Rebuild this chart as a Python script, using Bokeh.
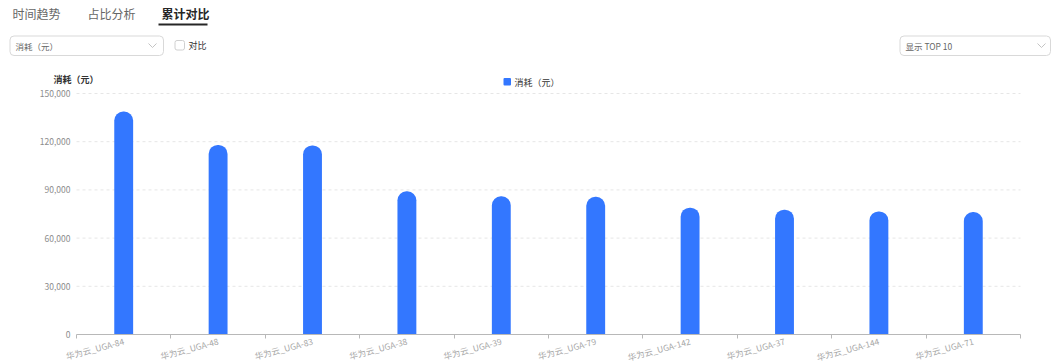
import math

from bokeh.embed import file_html
from bokeh.models import (Arrow, BoxAnnotation, ColumnDataSource, FixedTicker, Label,
                          NumeralTickFormatter, Range1d)
from bokeh.plotting import figure
from bokeh.resources import INLINE

# Cumulative cost per resource (top 10)
names = ["华为云_UGA-84", "华为云_UGA-48", "华为云_UGA-83", "华为云_UGA-38", "华为云_UGA-39",
         "华为云_UGA-79", "华为云_UGA-142", "华为云_UGA-37", "华为云_UGA-144", "华为云_UGA-71"]
costs = [138800, 118000, 117700, 89100, 86000, 85700, 78900, 77700, 76600, 76200]
y_ticks = [0, 30000, 60000, 90000, 120000, 150000]
tabs = ["时间趋势", "占比分析", "累计对比"]
metric = "消耗（元）"
top_n = "显示 TOP 10"
compare = "对比"

FONT = "Noto Sans CJK SC"
BLUE = "#3377ff"
W, H = 1055, 363
# pixel box of the bar area inside the page
PLOT_LEFT, PLOT_RIGHT, PLOT_TOP, PLOT_BOTTOM = 76, 1020, 93, 334

n = len(names)
x_unit = (PLOT_RIGHT - PLOT_LEFT) / n
y_unit = (y_ticks[-1] - y_ticks[0]) / (PLOT_BOTTOM - PLOT_TOP)

# the frame fills the whole canvas; ranges are widened so the bar area lands in place
p = figure(width=W, height=H, title=None, output_backend="svg", toolbar_location=None,
           min_border=0, outline_line_color=None,
           x_range=Range1d(-PLOT_LEFT / x_unit, n + (W - PLOT_RIGHT) / x_unit),
           y_range=Range1d(y_ticks[0] - (H - PLOT_BOTTOM) * y_unit,
                           y_ticks[-1] + PLOT_TOP * y_unit))
p.grid.visible = False
# pixel coordinates for the page furniture
p.extra_x_ranges = {"px": Range1d(0, W)}
p.extra_y_ranges = {"px": Range1d(H, 0)}
PX = dict(x_range_name="px", y_range_name="px")


def box(left, right, top, bottom, **kw):
    p.add_layout(BoxAnnotation(left=left, right=right, top=top, bottom=bottom, **PX, **kw))


def label(x, y, text, size, color, style="normal"):
    p.add_layout(Label(x=x, y=y, text=text, text_font=FONT, text_font_size=size,
                       text_color=color, text_font_style=style,
                       text_baseline="middle", text_align="left", **PX))


def chevron(cx, cy):
    for x0 in (cx - 4, cx + 4):
        p.add_layout(Arrow(x_start=x0, y_start=cy - 2, x_end=cx, y_end=cy + 2, end=None,
                           line_color="#c4c4c4", line_width=1, **PX))


# tabs
for x, t in zip([12, 87], tabs[:2]):
    label(x, 13, t, "12px", "#666666")
label(161, 13, tabs[2], "12px", "#262626", "bold")
box(158, 207, 23, 25, fill_color="#262626", fill_alpha=1, line_color=None)

# metric selector
box(9.5, 163, 35.5, 55, border_radius=4, fill_color="white", fill_alpha=1,
    line_color="#d9d9d9", line_alpha=1, line_width=1)
label(15, 45, metric, "8.5px", "#666666")
chevron(152, 45)

# compare checkbox
box(174.5, 184, 40, 49.5, border_radius=2, fill_color="white", fill_alpha=1,
    line_color="#d0d0d0", line_alpha=1, line_width=1)
label(188, 44.5, compare, "9px", "#333333")

# top-N selector
box(899.5, 1050, 35.5, 55, border_radius=4, fill_color="white", fill_alpha=1,
    line_color="#d9d9d9", line_alpha=1, line_width=1)
label(905, 45, top_n, "8.5px", "#666666")
chevron(1041, 45)

# y axis title and legend
label(53, 79, metric, "9px", "#333333", "bold")
box(503, 510.5, 77.5, 85, border_radius=1, fill_color=BLUE, fill_alpha=1, line_color=None)
label(514, 81.5, metric, "9px", "#333333")

# ---------- bars ----------
centers = [i + 0.5 for i in range(n)]
src = ColumnDataSource(dict(x=centers, name=names, cost=costs))

# dashed value gridlines across the bar area
p.segment(x0=[0] * (len(y_ticks) - 1), x1=[n] * (len(y_ticks) - 1), y0=y_ticks[1:],
          y1=y_ticks[1:], line_color="#e6e6e6", line_width=1, line_dash="3 3")

p.vbar(x="x", top="cost", width=0.2, source=src, fill_color=BLUE, line_color=None,
       border_radius=(9, 9, 0, 0))

# x axis: names under each bar, boundary ticks between categories
xa = p.xaxis[0]
xa.fixed_location = y_ticks[0]
xa.bounds = (0, n)
xa.ticker = FixedTicker(ticks=centers, minor_ticks=list(range(n + 1)))
xa.major_label_overrides = {c: nm for c, nm in zip(centers, names)}
xa.major_tick_in = 0
xa.major_tick_out = 0
xa.minor_tick_in = 0
xa.minor_tick_out = 4
xa.minor_tick_line_color = "#b8b8b8"
xa.axis_line_color = "#b8b8b8"
xa.major_label_orientation = math.radians(15)
xa.major_label_standoff = 2
xa.major_label_text_font = FONT
xa.major_label_text_font_size = "8.5px"
xa.major_label_text_color = "#a6a6a6"

ya = p.yaxis[0]
ya.fixed_location = 0
ya.bounds = (y_ticks[0], y_ticks[-1])
ya.ticker = FixedTicker(ticks=y_ticks)
ya.formatter = NumeralTickFormatter(format="0,0")
ya.axis_line_color = None
ya.major_tick_out = 0
ya.major_tick_in = 0
ya.minor_tick_out = 0
ya.minor_tick_in = 0
ya.major_label_standoff = 6
ya.major_label_text_font = FONT
ya.major_label_text_font_size = "8.5px"
ya.major_label_text_color = "#8c8c8c"

open("out.html", "w").write(file_html(p, INLINE))
